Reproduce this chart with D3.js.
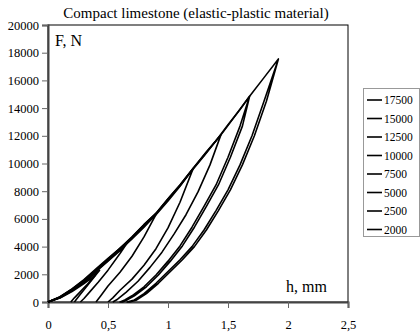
<!DOCTYPE html>
<html><head><meta charset="utf-8">
<script src="https://cdn.jsdelivr.net/npm/d3@7"></script>
<style>body{margin:0;background:#fff}svg{display:block}text{font-family:"Liberation Serif","Tinos","Times New Roman","DejaVu Serif",serif}</style>
</head><body>
<svg id="c" width="420" height="332"></svg>
<script>
// ---- data (h in mm, F in N) ----
const seriesNames = ["17500","15000","12500","10000","7500","5000","2500","2000"];
const xTicks = [0, 0.5, 1, 1.5, 2, 2.5];
const xTickLabels = ["0","0,5","1","1,5","2","2,5"];
const yTicks = [0,2000,4000,6000,8000,10000,12000,14000,16000,18000,20000];

const h17500 = [0,0.1,0.2,0.3,0.4,0.5,0.58,0.67,0.77,0.905,1.02,1.1,1.21,1.32,1.44,1.56,1.68,1.8,1.92,
                1.8,1.7,1.6,1.5,1.4,1.3,1.2,1.1,1.0,0.9,0.8,0.72,0.66,
                0.68,0.74,0.82,0.92,1.02,1.12,1.22,1.32,1.42,1.52,1.62,1.72,1.82,1.92];
const f17500 = [0,380,950,1620,2400,3150,3720,4400,5300,6450,7650,8450,9650,10850,12050,13450,14850,16200,17550,
                14500,12000,9900,8100,6600,5200,4000,3050,2200,1350,600,150,0,
                0,150,600,1350,2200,3050,4000,5200,6600,8100,9900,12000,14500,17550];
const h15000 = [0,0.1,0.2,0.3,0.4,0.5,0.6,0.7,0.8,0.9,1.0,1.1,1.2,1.3,1.4,1.5,1.6,1.68,
                1.6,1.5,1.4,1.3,1.2,1.1,1.0,0.9,0.8,0.7,0.64,0.6,
                0.62,0.66,0.72,0.82,0.92,1.02,1.12,1.22,1.32,1.42,1.52,1.62,1.68];
const f15000 = [0,350,900,1550,2300,3050,3850,4650,5550,6350,7400,8400,9500,10550,11650,12800,13900,14850,
                12700,10450,8450,6900,5400,4050,2950,1950,1100,450,150,0,
                0,150,450,1100,1950,2950,4050,5400,6900,8450,10450,12700,14850];
const h12500 = [0,0.1,0.2,0.3,0.4,0.5,0.6,0.7,0.8,0.9,1.0,1.1,1.2,1.3,1.44,
                1.35,1.25,1.15,1.05,0.95,0.85,0.75,0.65,0.58,0.54];
const f12500 = [0,360,920,1580,2330,3100,3900,4700,5600,6400,7450,8450,9550,10600,12050,
                9900,7950,6300,4900,3600,2500,1500,700,200,0];
const h10000 = [0,0.1,0.2,0.3,0.4,0.5,0.6,0.7,0.8,0.9,1.0,1.1,1.21,
                1.1,1.0,0.9,0.8,0.7,0.6,0.54,0.5];
const f10000 = [0,340,880,1520,2270,3020,3800,4600,5450,6300,7300,8350,9650,
                7200,5350,3850,2650,1650,850,300,0];
const h7500 = [0,0.1,0.2,0.3,0.4,0.5,0.6,0.7,0.8,0.905,
               0.8,0.7,0.6,0.5,0.44,0.4];
const f7500 = [0,330,860,1480,2220,2980,3750,4550,5400,6400,
               4700,3300,2150,1150,450,0];
const h5000 = [0,0.1,0.2,0.3,0.4,0.5,0.6,0.67,
               0.6,0.5,0.42,0.35,0.3,0.27];
const f5000 = [0,320,840,1450,2200,2950,3700,4400,
               3500,2300,1450,750,250,0];
const h2500 = [0,0.1,0.2,0.3,0.43,
               0.37,0.31,0.26,0.22];
const f2500 = [0,310,800,1400,2300,
               1650,1000,450,0];
const h2000 = [0,0.1,0.2,0.3,0.39,
               0.33,0.27,0.22,0.19];
const f2000 = [0,290,760,1330,1900,
               1300,750,300,0];
const seriesH = [h17500,h15000,h12500,h10000,h7500,h5000,h2500,h2000];
const seriesF = [f17500,f15000,f12500,f10000,f7500,f5000,f2500,f2000];

// ---- drawing ----
const svg = d3.select("#c");
const L = 48, R = 348, T = 25, B = 302;
const x = d3.scaleLinear().domain([0, 2.5]).range([L, R]);
const y = d3.scaleLinear().domain([0, 20000]).range([B, T]);
const serif = '"Liberation Serif","Tinos","Times New Roman","DejaVu Serif",serif';

// plot border
svg.append("rect").attr("x", L).attr("y", T).attr("width", R - L).attr("height", B - T)
  .attr("fill", "none").attr("stroke", "#000").attr("stroke-width", 1);

// axes
const xAxis = svg.append("g").attr("transform", `translate(0,${B})`)
  .call(d3.axisBottom(x).tickValues(xTicks).tickSize(6).tickPadding(12)
    .tickFormat((d, i) => xTickLabels[i]));
const yAxis = svg.append("g").attr("transform", `translate(${L},0)`)
  .call(d3.axisLeft(y).tickValues(yTicks).tickSize(6).tickPadding(3).tickFormat(d3.format("d")));
[xAxis, yAxis].forEach(g => {
  g.attr("font-family", null).attr("font-size", 12.5);
  g.select(".domain").attr("stroke", "#444").attr("stroke-width", 2);
  g.selectAll(".tick line").attr("stroke", "#666");
  g.selectAll("text").style("font-family", serif).attr("fill", "#000");
});

// curves
const line = d3.line().x(d => x(d[0])).y(d => y(d[1]));
seriesNames.forEach((name, i) => {
  const pts = seriesH[i].map((h, j) => [h, seriesF[i][j]]);
  svg.append("path").datum(pts).attr("d", line)
    .attr("fill", "none").attr("stroke", "#000").attr("stroke-width", 1.6)
    .attr("stroke-linejoin", "round");
});

// title & axis names
svg.append("text").attr("x", 196).attr("y", 18).attr("text-anchor", "middle")
  .attr("font-size", 15).style("font-family", serif).text("Compact limestone (elastic-plastic material)");
svg.append("text").attr("x", 55).attr("y", 46)
  .attr("font-size", 16).style("font-family", serif).text("F, N");
svg.append("text").attr("x", 327).attr("y", 292).attr("text-anchor", "end")
  .attr("font-size", 16).style("font-family", serif).text("h, mm");

// legend
const lg = svg.append("g");
lg.append("rect").attr("x", 363.5).attr("y", 88.5).attr("width", 56).attr("height", 148)
  .attr("fill", "#fff").attr("stroke", "#999");
seriesNames.forEach((name, i) => {
  const cy = 100 + i * 18.5;
  lg.append("line").attr("x1", 367).attr("x2", 382).attr("y1", cy).attr("y2", cy)
    .attr("stroke", "#000").attr("stroke-width", 1.6);
  lg.append("text").attr("x", 384).attr("y", cy + 4)
    .attr("font-size", 11.5).style("font-family", serif).text(name);
});
</script>
</body></html>
